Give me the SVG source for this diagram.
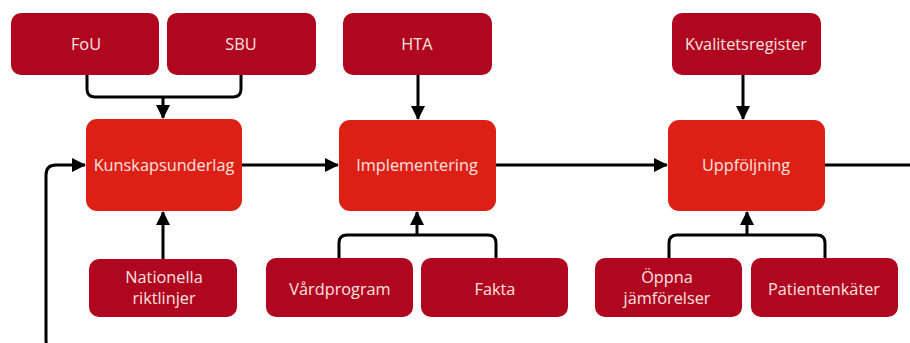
<svg xmlns="http://www.w3.org/2000/svg" width="910" height="343" viewBox="0 0 910 343">
<defs>
<style>
.sub{fill:#b1061f;}
.main{fill:#dd2016;}
.t{font-family:"Open Sans","Liberation Sans",sans-serif;font-size:16.3px;fill:#fbe4e0;text-anchor:middle;}
.c{fill:none;stroke:#000;stroke-width:3;stroke-linejoin:round;}
</style>
<marker id="ah" viewBox="0 0 14 14" refX="13" refY="7" markerWidth="14" markerHeight="14" markerUnits="userSpaceOnUse" orient="auto">
<path d="M0,0 L14,7 L0,14 Z" fill="#000"/>
</marker>
</defs>
<rect width="910" height="343" fill="#fff"/>
<g id="connectors">
<path class="c" d="M87,75 V89 Q87,97 95,97 H233 Q241,97 241,89 V75"/>
<path class="c" d="M163,97 V118" marker-end="url(#ah)"/>
<path class="c" d="M163,259 V212" marker-end="url(#ah)"/>
<path class="c" d="M242,165 H338" marker-end="url(#ah)"/>
<path class="c" d="M418,75 V119" marker-end="url(#ah)"/>
<path class="c" d="M339,258 V243 Q339,235 347,235 H488 Q496,235 496,243 V258"/>
<path class="c" d="M417,235 V212" marker-end="url(#ah)"/>
<path class="c" d="M496,165 H667" marker-end="url(#ah)"/>
<path class="c" d="M743,75 V119" marker-end="url(#ah)"/>
<path class="c" d="M669,258 V243 Q669,235 677,235 H817 Q825,235 825,243 V258"/>
<path class="c" d="M747,235 V212" marker-end="url(#ah)"/>
<path class="c" d="M825,165 H920"/>
<path class="c" d="M60,352 Q46,352 46,340 V175 Q46,165 56,165 H85" marker-end="url(#ah)"/>
</g>
<g id="fou"><rect class="sub" x="11" y="13" width="148" height="62" rx="10"/><text class="t" x="86" y="50">FoU</text></g>
<g id="sbu"><rect class="sub" x="167" y="13" width="149" height="62" rx="10"/><text class="t" x="241" y="50">SBU</text></g>
<g id="hta"><rect class="sub" x="343" y="13" width="149" height="62" rx="10"/><text class="t" x="417" y="50">HTA</text></g>
<g id="kvalitetsregister"><rect class="sub" x="672" y="13" width="149" height="62" rx="10"/><text class="t" x="746" y="50">Kvalitetsregister</text></g>
<g id="kunskapsunderlag"><rect class="main" x="86" y="119" width="156" height="92" rx="11"/><text class="t" x="164" y="171">Kunskapsunderlag</text></g>
<g id="implementering"><rect class="main" x="339" y="120" width="157" height="91" rx="11"/><text class="t" x="417" y="171">Implementering</text></g>
<g id="uppfoljning"><rect class="main" x="668" y="120" width="157" height="91" rx="11"/><text class="t" x="746" y="171">Uppföljning</text></g>
<g id="nationella"><rect class="sub" x="89" y="259" width="148" height="58" rx="10"/><text class="t" x="164" y="283">Nationella</text><text class="t" x="164" y="304">riktlinjer</text></g>
<g id="vardprogram"><rect class="sub" x="266" y="258" width="147" height="59" rx="10"/><text class="t" x="340" y="295">Vårdprogram</text></g>
<g id="fakta"><rect class="sub" x="421" y="258" width="147" height="59" rx="10"/><text class="t" x="495" y="295">Fakta</text></g>
<g id="oppna"><rect class="sub" x="595" y="258" width="147" height="59" rx="10"/><text class="t" x="667" y="283">Öppna</text><text class="t" x="667" y="304">jämförelser</text></g>
<g id="patientenkater"><rect class="sub" x="751" y="258" width="147" height="59" rx="10"/><text class="t" x="824" y="295">Patientenkäter</text></g>
</svg>
